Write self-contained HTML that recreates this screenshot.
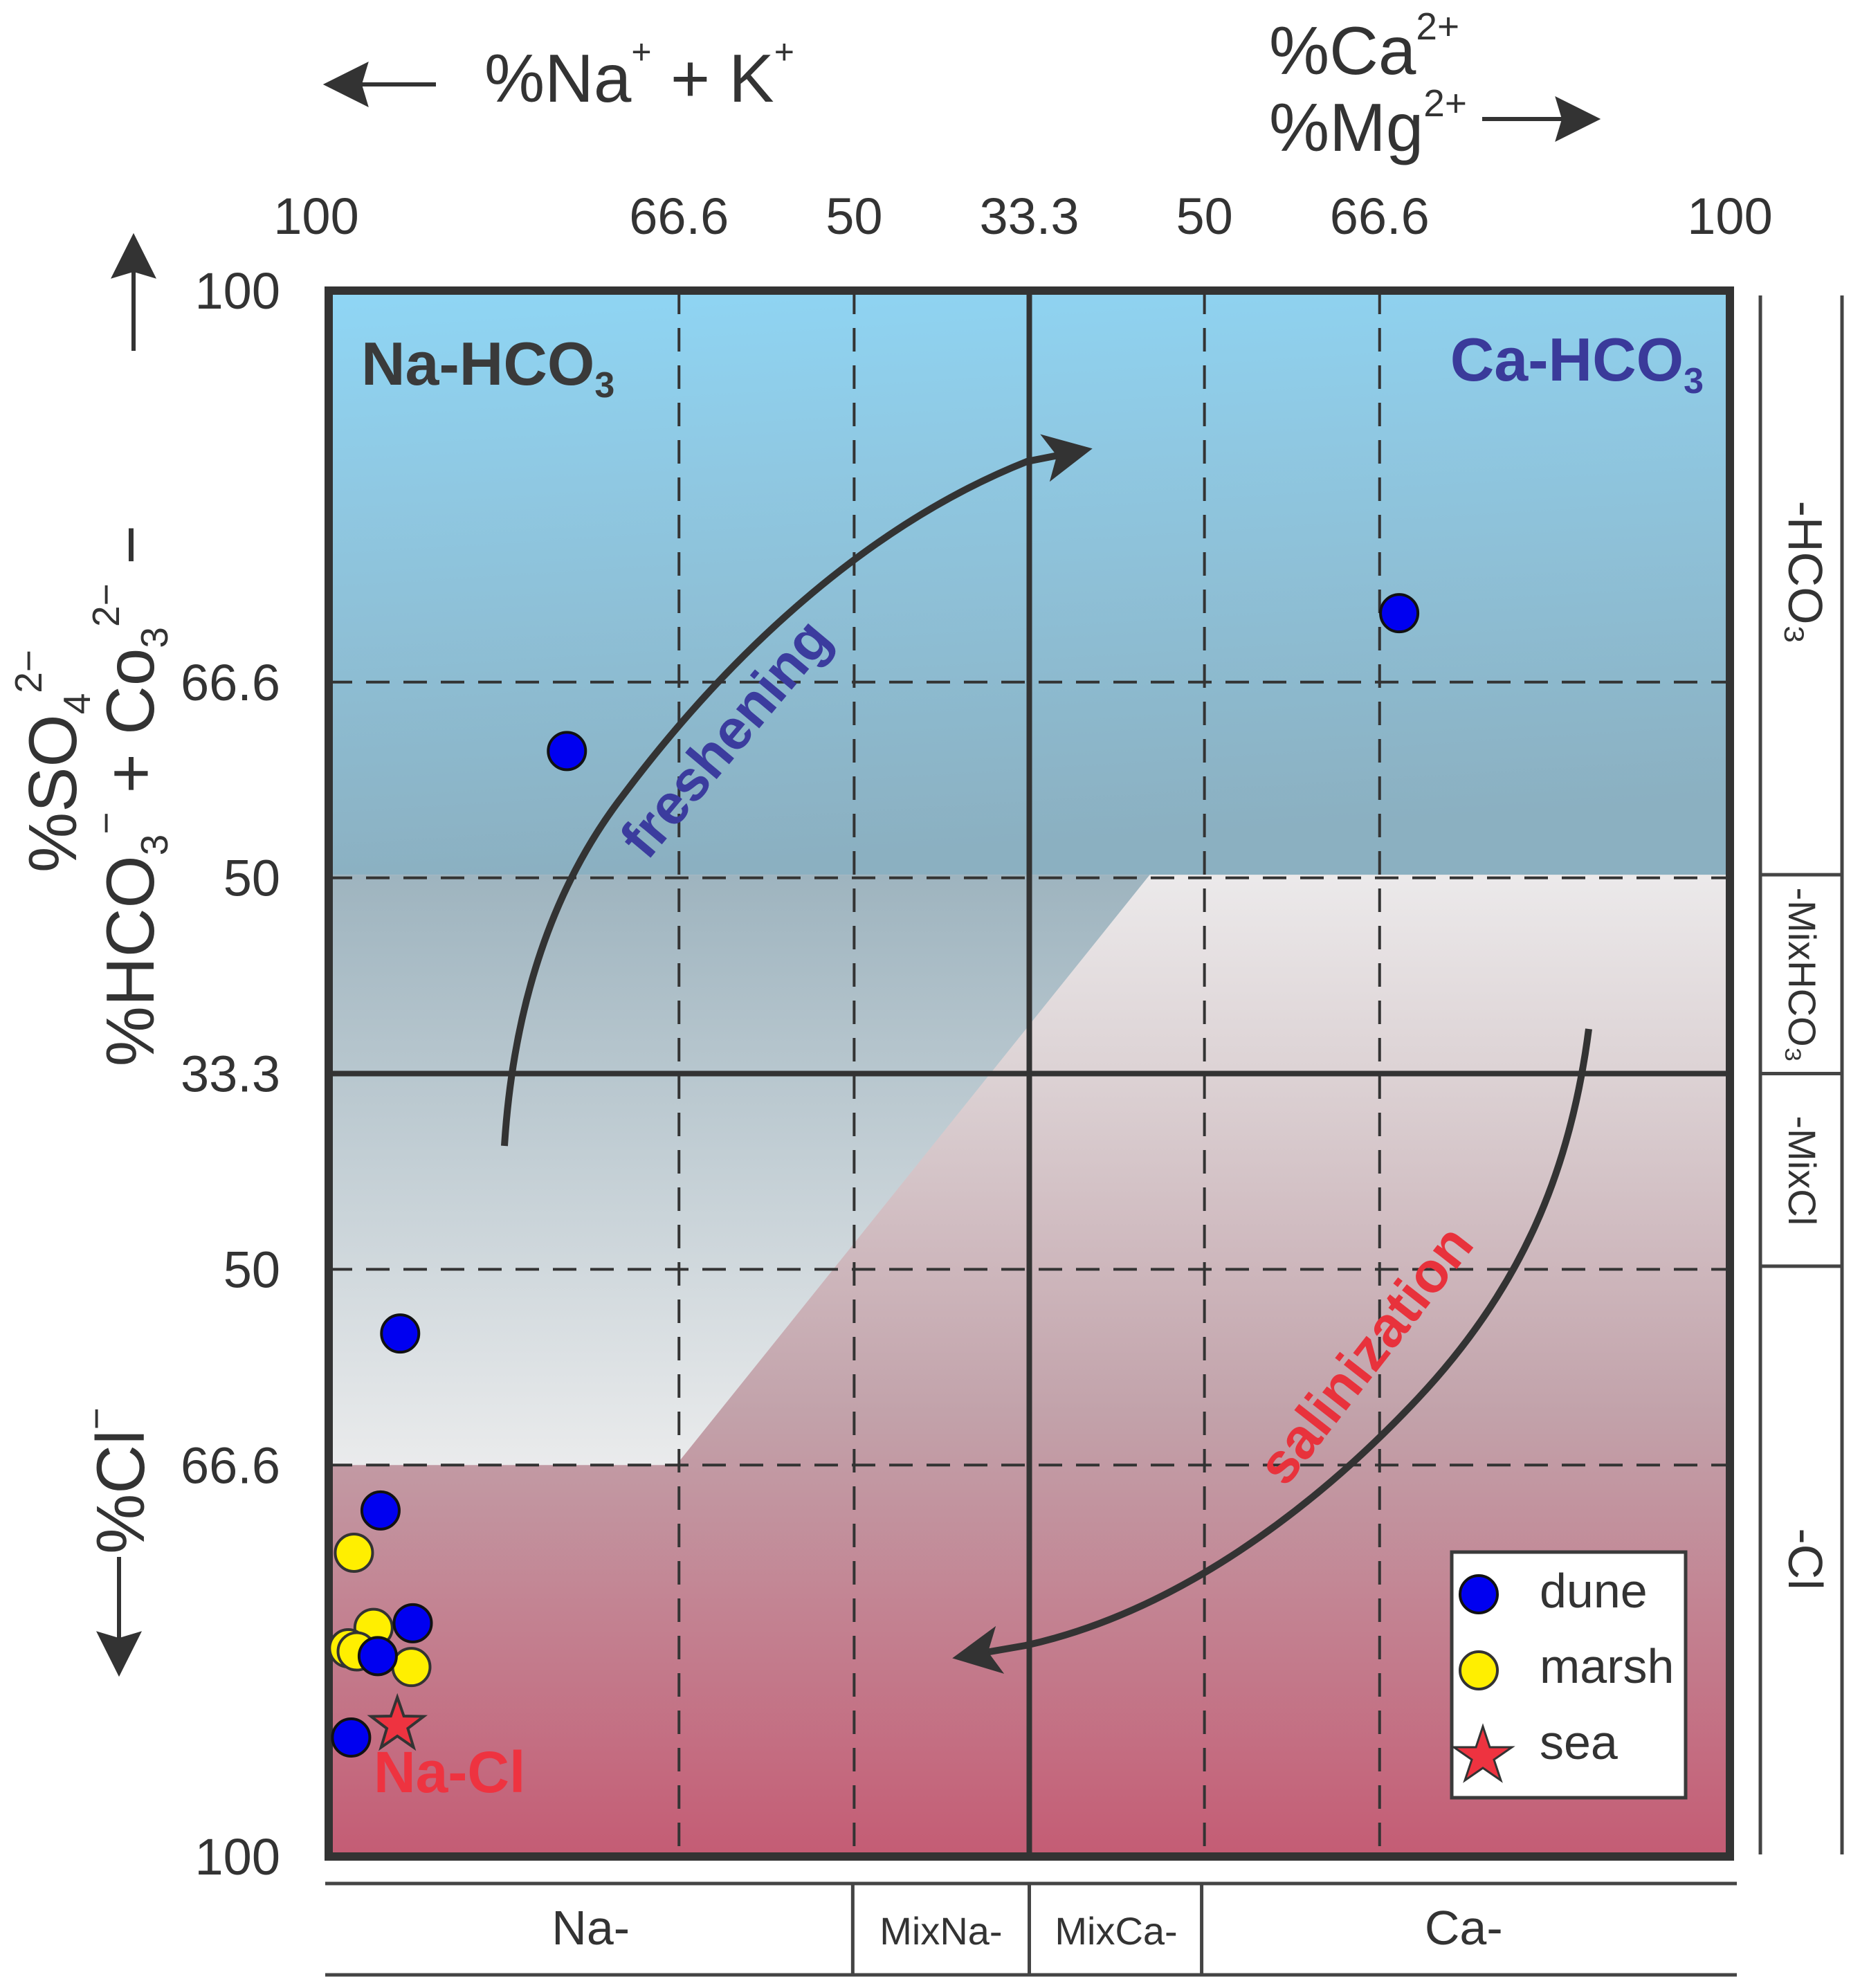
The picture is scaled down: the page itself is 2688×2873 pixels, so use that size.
<!DOCTYPE html>
<html><head><meta charset="utf-8"><style>
html,body{margin:0;padding:0;background:#fff;}
svg{display:block;font-family:"Liberation Sans",Arial,sans-serif;}
</style></head><body>
<svg id="chart" width="2688" height="2873" viewBox="0 0 2688 2873" xmlns="http://www.w3.org/2000/svg">
<defs>
<linearGradient id="gTop" x1="0" y1="0" x2="0.15" y2="1">
<stop offset="0" stop-color="#8fd6f5"/><stop offset="0.35" stop-color="#8fc8e2"/><stop offset="1" stop-color="#8bb0c1"/>
</linearGradient>
<linearGradient id="gLeft" x1="0" y1="0" x2="0" y2="1">
<stop offset="0" stop-color="#9eb4bf"/><stop offset="1" stop-color="#eaebec"/>
</linearGradient>
<linearGradient id="gPink" x1="0" y1="0" x2="0" y2="1">
<stop offset="0" stop-color="#eceaeb"/><stop offset="0.2" stop-color="#ddd3d5"/><stop offset="0.55" stop-color="#c2a2aa"/><stop offset="1" stop-color="#c45c74"/>
</linearGradient>
<marker id="ah" viewBox="0 0 10 10" refX="8" refY="5" markerWidth="8" markerHeight="7" orient="auto-start-reverse" markerUnits="strokeWidth">
<path d="M0,0 L10,5 L0,10 L2.5,5 Z" fill="#333"/></marker>
<marker id="ah2" viewBox="0 0 10 10" refX="8" refY="5" markerWidth="11" markerHeight="11" orient="auto-start-reverse" markerUnits="strokeWidth">
<path d="M0,0 L10,5 L0,10 L1.5,5 Z" fill="#333"/></marker>
</defs>
<g id="bg"></g>
<g id="grid"></g>
<g id="arrows">
<path d="M729,1656 C742,1450 800,1280 900,1150 C1050,950 1250,760 1484,667 L1565,651" fill="none" stroke="#333" stroke-width="10" marker-end="url(#ah)"/>
<path d="M2296,1487 C2270,1690 2200,1860 2050,2020 C1900,2180 1700,2330 1482,2378 L1390,2394" fill="none" stroke="#333" stroke-width="10" marker-end="url(#ah)"/>
<text transform="translate(1070,1085) rotate(-50)" text-anchor="middle" font-size="82" font-weight="bold" fill="#3b3c9e">freshening</text>
<text transform="translate(1995,1975) rotate(-52)" text-anchor="middle" font-size="82" font-weight="bold" fill="#e8323c">salinization</text>
</g>
<g id="frame"></g>
<g id="labels">
<text x="522" y="556" font-size="88" font-weight="bold" fill="#3a3a3a">Na-HCO<tspan font-size="52" dy="18">3</tspan></text>
<text x="2462" y="550" text-anchor="end" font-size="88" font-weight="bold" fill="#3a3a9a">Ca-HCO<tspan font-size="52" dy="18">3</tspan></text>
<text x="540" y="2590" font-size="84" font-weight="bold" fill="#ee3340">Na-Cl</text>
</g>
<g id="points"></g>
<g id="ticks"></g>
<g id="titles">
<line x1="630" y1="122" x2="480" y2="122" stroke="#333" stroke-width="6" marker-end="url(#ah2)"/>
<text x="700" y="147" font-size="98" fill="#333">%Na<tspan font-size="50" dy="-55">+</tspan><tspan dy="55"> + K</tspan><tspan font-size="50" dy="-55">+</tspan></text>
<text x="1834" y="107" font-size="98" fill="#333">%Ca<tspan font-size="55" dy="-50">2+</tspan></text>
<text x="1834" y="218" font-size="98" fill="#333">%Mg<tspan font-size="55" dy="-50">2+</tspan></text>
<line x1="2142" y1="172" x2="2300" y2="172" stroke="#333" stroke-width="6" marker-end="url(#ah2)"/>
<line x1="193" y1="507" x2="193" y2="350" stroke="#333" stroke-width="6" marker-end="url(#ah2)"/>
<text transform="translate(110,1100) rotate(-90)" text-anchor="middle" font-size="98" fill="#333">%SO<tspan font-size="55" dy="20">4</tspan><tspan font-size="55" dy="-70">2−</tspan></text>
<text transform="translate(222,1150) rotate(-90)" text-anchor="middle" font-size="98" fill="#333">%HCO<tspan font-size="55" dy="20">3</tspan><tspan font-size="55" dy="-70">−</tspan><tspan dy="50"> + Co</tspan><tspan font-size="55" dy="20">3</tspan><tspan font-size="55" dy="-70">2−</tspan><tspan font-size="98" dy="50"> −</tspan></text>
<text transform="translate(208,2140) rotate(-90)" text-anchor="middle" font-size="98" fill="#333">%Cl<tspan font-size="55" dy="-50">−</tspan></text>
<line x1="172" y1="2250" x2="172" y2="2410" stroke="#333" stroke-width="6" marker-end="url(#ah2)"/>
</g>
<g id="brackets"></g>
<g id="legend">
<rect x="2098" y="2243" width="338" height="355" fill="#fff" stroke="#3a3a3a" stroke-width="5"/>
<circle cx="2137" cy="2304" r="27" fill="#0000f0" stroke="#111" stroke-width="4"/>
<text x="2225" y="2323" font-size="70" fill="#333">dune</text>
<circle cx="2137" cy="2414" r="27" fill="#ffef00" stroke="#333" stroke-width="4"/>
<text x="2225" y="2432" font-size="70" fill="#333">marsh</text>
<polygon points="2143,2495 2153,2525 2185,2525 2159,2543 2169,2573 2143,2555 2117,2573 2127,2543 2101,2525 2133,2525" fill="#ee3340" stroke="#333" stroke-width="3"/>
<text x="2225" y="2542" font-size="70" fill="#333">sea</text>
</g>
</svg>
<script>
// ---- data (plot percentages: x 0=left..100=right, y 0=top..100=bottom) ----
const duneX = [17.0, 76.4, 5.1, 3.7, 6.0, 3.5, 1.6];
const duneY = [29.4, 20.6, 66.6, 77.9, 85.1, 87.2, 92.4];
const marshX = [1.8, 3.2, 1.4, 2.0, 5.9];
const marshY = [80.6, 85.4, 86.7, 86.9, 87.9];
const seaX = [4.9];
const seaY = [91.6];
const gridFrac = [25, 37.5, 62.5, 75];
const topTickLabels = ["100", "66.6", "50", "33.3", "50", "66.6", "100"];
const topTickPos = [0, 25, 37.5, 50, 62.5, 75, 100];
const leftTickLabels = ["100", "66.6", "50", "33.3", "50", "66.6", "100"];
const leftTickPos = [0, 25, 37.5, 50, 62.5, 75, 100];

const L = 475, R = 2500, T = 420, B = 2683;
const sx = v => L + (R - L) * v / 100;
const sy = v => T + (B - T) * v / 100;
const NS = "http://www.w3.org/2000/svg";
function mk(tag, parent, attrs) {
  const e = document.createElementNS(NS, tag);
  for (const k in attrs) e.setAttribute(k, attrs[k]);
  parent.appendChild(e);
  return e;
}
const bg = document.getElementById('bg');
let r1 = mk('rect', bg, {x: L, y: sy(37), width: R - L, height: B - sy(37), fill: 'url(#gPink)'});


let r2 = mk('rect', bg, {x: L, y: T, width: R - L, height: sy(37.3) - T, fill: 'url(#gTop)'});


let p3 = mk('polygon', bg, {points: `${L},${sy(37.3)} ${sx(58.6)},${sy(37.3)} ${sx(24.8)},${sy(75)} ${L},${sy(75)}`, fill: 'url(#gLeft)'});



const grid = document.getElementById('grid');
gridFrac.forEach(f => {
  let v = mk('line', grid, {x1: sx(f), y1: T, x2: sx(f), y2: B, stroke: '#333', 'stroke-width': 4, 'stroke-dasharray': '34 20'});
  
  
  let h = mk('line', grid, {x1: L, y1: sy(f), x2: R, y2: sy(f), stroke: '#333', 'stroke-width': 4, 'stroke-dasharray': '34 20'});
  
  
});
let cv = mk('line', grid, {x1: sx(50), y1: T, x2: sx(50), y2: B, stroke: '#333', 'stroke-width': 8});


let ch = mk('line', grid, {x1: L, y1: sy(50), x2: R, y2: sy(50), stroke: '#333', 'stroke-width': 8});



const fr = mk('rect', document.getElementById('frame'), {x: L, y: T, width: R - L, height: B - T, fill: 'none', stroke: '#333', 'stroke-width': 12});



const pts = document.getElementById('points');
marshX.forEach((x, i) => {
  let c = mk('circle', pts, {cx: sx(x), cy: sy(marshY[i]), r: 27, fill: '#ffef00', stroke: '#333', 'stroke-width': 4});
  
  
});
duneX.forEach((x, i) => {
  let c = mk('circle', pts, {cx: sx(x), cy: sy(duneY[i]), r: 27, fill: '#0000f0', stroke: '#111', 'stroke-width': 4});
  
  
});
seaX.forEach((x, i) => {
  const cx = sx(x), cy = sy(seaY[i]);
  let s = [];
  for (let k = 0; k < 10; k++) {
    const a = -Math.PI / 2 + k * Math.PI / 5, rr = k % 2 ? 16 : 40;
    s.push((cx + rr * Math.cos(a)).toFixed(1) + ',' + (cy + rr * Math.sin(a)).toFixed(1));
  }
  let p = mk('polygon', pts, {points: s.join(' '), fill: '#ee3340', stroke: '#333', 'stroke-width': 4});
  
  
});

const ticks = document.getElementById('ticks');
topTickLabels.forEach((t, i) => {
  let x = sx(topTickPos[i]);
  if (i === 0) x -= 18;
  let e = mk('text', ticks, {x: x, y: 338, 'text-anchor': 'middle', 'font-size': 74, fill: '#333'});
  e.textContent = t;
  
  
});
leftTickLabels.forEach((t, i) => {
  let e = mk('text', ticks, {x: 405, y: sy(leftTickPos[i]) + 26, 'text-anchor': 'end', 'font-size': 74, fill: '#333'});
  e.textContent = t;
  
  
});

const br = document.getElementById('brackets');
function ln(x1, y1, x2, y2, name) {
  let e = mk('line', br, {x1, y1, x2, y2, stroke: '#444', 'stroke-width': 5});
  
  
}
ln(2544, 427, 2544, 2680, 'right-bracket-inner-line');
ln(2662, 427, 2662, 2680, 'right-bracket-outer-line');
[37.3, 50, 62.3].forEach(f => ln(2544, sy(f), 2662, sy(f), 'right-bracket-divider'));
ln(470, 2722, 2510, 2722, 'bottom-bracket-top-line');
ln(470, 2854, 2510, 2854, 'bottom-bracket-bottom-line');
[37.4, 50, 62.3].forEach(f => ln(sx(f), 2722, sx(f), 2854, 'bottom-bracket-divider'));
const rLabels = [["-HCO₃", 18], ["-MixHCO₃", 43.7], ["-MixCl", 56.2], ["-Cl", 81]];
rLabels.forEach(([t, f], i) => {
  let e = mk('text', br, {transform: `translate(2585,${sy(f)}) rotate(90)`, 'text-anchor': 'middle', 'font-size': i === 0 || i === 3 ? 70 : 56, fill: '#333'});
  e.textContent = t;
  
  
});
const bLabels = [["Na-", 18.7, 70], ["MixNa-", 43.7, 56], ["MixCa-", 56.2, 56], ["Ca-", 81, 70]];
bLabels.forEach(([t, f, fs]) => {
  let e = mk('text', br, {x: sx(f), y: 2810, 'text-anchor': 'middle', 'font-size': fs, fill: '#333'});
  e.textContent = t;
  
  
});
</script>
</body></html>
